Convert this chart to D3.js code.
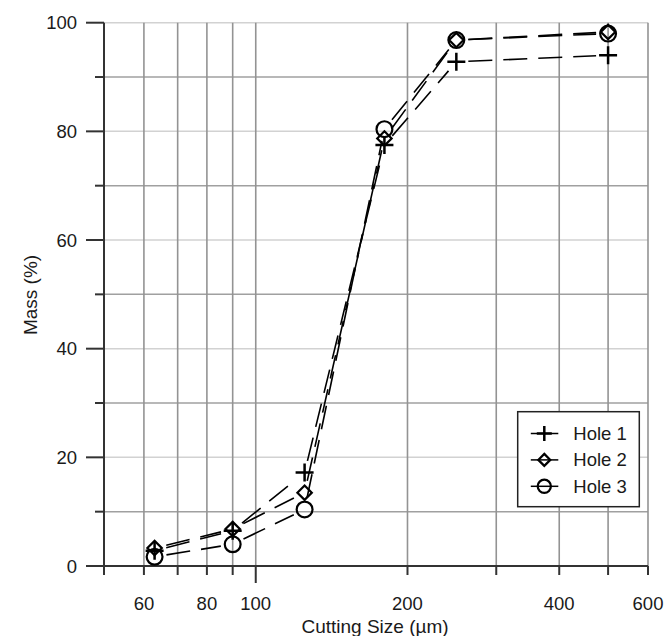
<!DOCTYPE html>
<html>
<head>
<meta charset="utf-8">
<script src="https://cdn.jsdelivr.net/npm/d3@7"></script>
<style>
    body { margin: 0; background: #fff; }
    text { font-family: "Liberation Sans", Arial, sans-serif; fill: #1a1a1a; }
</style>
</head>
<body>
<svg id="chart" width="667" height="636"></svg>
<script>
// sieve sizes (µm) and cumulative mass (%) per hole
var sizes = [63, 90, 125, 180, 250, 500];
var hole1 = [2.8, 6.5, 17.2, 77.5, 92.8, 94.0];
var hole2 = [3.3, 6.8, 13.5, 78.7, 96.8, 98.3];
var hole3 = [1.7, 4.0, 10.4, 80.4, 96.8, 98.0];
var seriesNames = ['Hole 1', 'Hole 2', 'Hole 3'];
var markerKinds = ['plus', 'diamond', 'circle'];

var xGridTicks = [60, 70, 80, 90, 100, 200, 300, 400, 500, 600];
var xTickLabels = [60, 80, 100, 200, 400, 600];
var yMinorTicks = [10, 30, 50, 70, 90];
var yMajorTicks = [0, 20, 40, 60, 80, 100];

var svg = d3.select('#chart');

var x = d3.scaleLog().domain([50, 600]).range([104, 648]),
    y = d3.scaleLinear().domain([0, 100]).range([566, 22.7]);

var grid = svg.append('g');

// horizontal grid: odd tens darker than the labelled ones
grid.selectAll('line.hmin')
    .data(yMinorTicks)
    .enter()
    .append('line')
    .attr('x1', x(50)).attr('x2', x(600))
    .attr('y1', function(d) { return y(d); })
    .attr('y2', function(d) { return y(d); })
    .attr('stroke', '#a0a0a0')
    .attr('stroke-width', 1.5);

grid.selectAll('line.hmaj')
    .data(yMajorTicks.slice(1))
    .enter()
    .append('line')
    .attr('x1', x(50)).attr('x2', x(600))
    .attr('y1', function(d) { return y(d); })
    .attr('y2', function(d) { return y(d); })
    .attr('stroke', '#d2d2d2')
    .attr('stroke-width', 1.5);

grid.selectAll('line.v')
    .data(xGridTicks)
    .enter()
    .append('line')
    .attr('x1', function(d) { return x(d); })
    .attr('x2', function(d) { return x(d); })
    .attr('y1', y(0)).attr('y2', y(100))
    .attr('stroke', '#939393')
    .attr('stroke-width', 1.6);

// axes
var xAxis = svg.append('g').attr('transform', 'translate(0,' + y(0) + ')');
xAxis.append('line')
    .attr('x1', x(50)).attr('x2', x(600))
    .attr('stroke', '#333').attr('stroke-width', 2);
xAxis.selectAll('line.tick')
    .data([50].concat(xGridTicks))
    .enter()
    .append('line')
    .attr('x1', function(d) { return x(d); })
    .attr('x2', function(d) { return x(d); })
    .attr('y1', 0)
    .attr('y2', function(d) { return d === 100 ? 17 : 9; })
    .attr('stroke', '#333').attr('stroke-width', 2);
xAxis.selectAll('text')
    .data(xTickLabels)
    .enter()
    .append('text')
    .attr('x', function(d) { return x(d); })
    .attr('y', 44)
    .attr('text-anchor', 'middle')
    .style('font-size', '18.5px')
    .text(function(d) { return d; });

var yAxis = svg.append('g').attr('transform', 'translate(' + x(50) + ',0)');
yAxis.append('line')
    .attr('y1', y(100)).attr('y2', y(0) + 9)
    .attr('stroke', '#333').attr('stroke-width', 2);
yAxis.selectAll('line.tick')
    .data(yMajorTicks.concat(yMinorTicks))
    .enter()
    .append('line')
    .attr('y1', function(d) { return y(d); })
    .attr('y2', function(d) { return y(d); })
    .attr('x1', function(d) { return d % 20 === 0 ? -18 : -9; })
    .attr('x2', 0)
    .attr('stroke', '#333').attr('stroke-width', 2);
yAxis.selectAll('text')
    .data(yMajorTicks)
    .enter()
    .append('text')
    .attr('x', -27)
    .attr('y', function(d) { return y(d) + 6.5; })
    .attr('text-anchor', 'end')
    .style('font-size', '18.5px')
    .text(function(d) { return d; });

svg.append('text')
    .attr('x', 375)
    .attr('y', 633)
    .attr('text-anchor', 'middle')
    .style('font-size', '19px')
    .text('Cutting Size (µm)');

svg.append('text')
    .attr('transform', 'translate(37,' + 295 + ') rotate(-90)')
    .attr('text-anchor', 'middle')
    .style('font-size', '19px')
    .text('Mass (%)');

// marker drawing
var drawMarker = function(g, kind, s) {
    if (kind === 'plus') {
        g.append('path')
            .attr('d', 'M' + -s + ',0H' + s + 'M0,' + -s + 'V' + s)
            .attr('stroke', '#000').attr('stroke-width', 2.5).attr('fill', 'none');
    } else if (kind === 'diamond') {
        var r = s * 0.8;
        g.append('path')
            .attr('d', 'M0,' + -r + 'L' + r + ',0L0,' + r + 'L' + -r + ',0Z')
            .attr('stroke', '#000').attr('stroke-width', 2.2).attr('fill', 'none');
    } else {
        g.append('circle')
            .attr('r', s * 0.88)
            .attr('stroke', '#000').attr('stroke-width', 2.2).attr('fill', 'none');
    }
};

var series = [hole1, hole2, hole3];

series.forEach(function(vals, i) {
    var pts = sizes.map(function(s, k) { return [x(s), y(vals[k])]; });
    var g = svg.append('g');
    // segments, trimmed back from the markers
    for (var k = 0; k < pts.length - 1; k++) {
        var p = pts[k], q = pts[k + 1];
        var dx = q[0] - p[0], dy = q[1] - p[1];
        var len = Math.sqrt(dx * dx + dy * dy);
        var ux = dx / len, uy = dy / len;
        var trim = 12;
        g.append('line')
            .attr('x1', p[0] + ux * trim).attr('y1', p[1] + uy * trim)
            .attr('x2', q[0] - ux * trim).attr('y2', q[1] - uy * trim)
            .attr('stroke', '#000')
            .attr('stroke-width', 1.6)
            .attr('stroke-dasharray', '24,11');
    }
    pts.forEach(function(p) {
        var m = g.append('g').attr('transform', 'translate(' + p[0] + ',' + p[1] + ')');
        drawMarker(m, markerKinds[i], 9);
    });
});

// legend
var legend = svg.append('g');
legend.append('rect')
    .attr('x', 517.7).attr('y', 411.7)
    .attr('width', 121.6).attr('height', 95)
    .attr('fill', '#fff')
    .attr('stroke', '#222').attr('stroke-width', 1.5);

var rows = legend.selectAll('g.row')
    .data(seriesNames)
    .enter()
    .append('g')
    .attr('transform', function(d, i) { return 'translate(544.3,' + (433.5 + i * 26.4) + ')'; });

rows.append('line')
    .attr('x1', -13.5).attr('x2', 14)
    .attr('stroke', '#000').attr('stroke-width', 1.5);

rows.each(function(d, i) {
    drawMarker(d3.select(this), markerKinds[i], 7.5);
});

rows.append('text')
    .attr('x', 29)
    .attr('y', 6.5)
    .style('font-size', '18.5px')
    .text(function(d) { return d; });
</script>
</body>
</html>
